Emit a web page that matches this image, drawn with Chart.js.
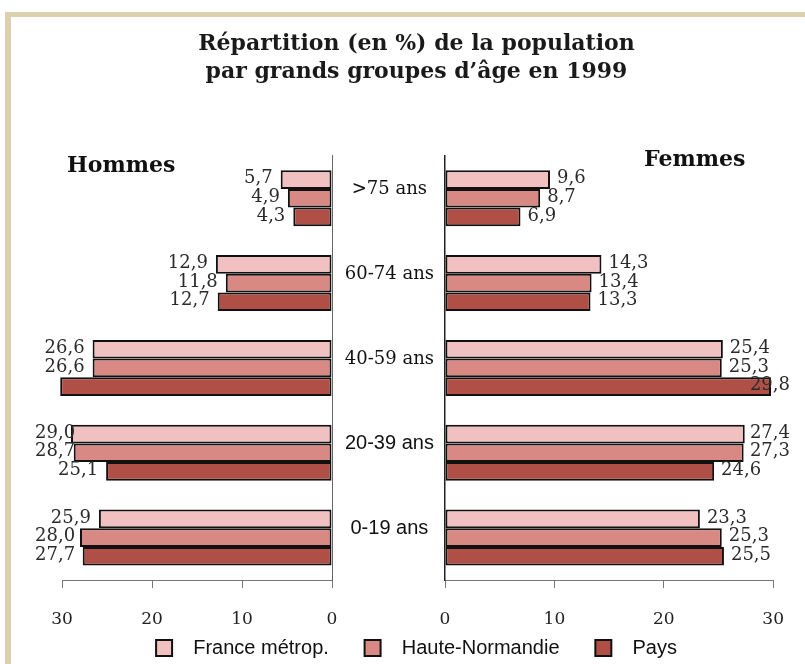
<!DOCTYPE html>
<html>
<head>
<meta charset="utf-8">
<script src="https://cdn.jsdelivr.net/npm/chart.js@4.4.0/dist/chart.umd.min.js"></script>
<style>
  body { margin: 0; background: #fff; }
  #wrap { position: relative; width: 805px; height: 664px; overflow: hidden; }
  #wrap canvas { position: absolute; left: 0; top: 0; }
  #frame { position: absolute; left: 5px; top: 12px; width: 800px; height: 652px;
           border-top: 5px solid #ddd0ae; border-left: 6px solid #ddd0ae; box-sizing: border-box; }
  .side { position: absolute; font: bold 22px "DejaVu Serif", serif; color: #111; }
</style>
</head>
<body>
<div id="wrap">
  <div id="frame"></div>
  <canvas id="hommes" width="805" height="664"></canvas>
  <canvas id="femmes" width="805" height="664"></canvas>
  <div class="side" style="left:67px; top:151px;">Hommes</div>
  <div class="side" style="left:644px; top:145px;">Femmes</div>
</div>
<script>
const categories = ['>75 ans', '60-74 ans', '40-59 ans', '20-39 ans', '0-19 ans'];
const seriesNames = ['France métrop.', 'Haute-Normandie', 'Pays'];
const hommesFrance = [5.7, 12.9, 26.6, 29.0, 25.9];
const hommesHN = [4.9, 11.8, 26.6, 28.7, 28.0];
const hommesPays = [4.3, 12.7, 30.2, 25.1, 27.7];
const femmesFrance = [9.6, 14.3, 25.4, 27.4, 23.3];
const femmesHN = [8.7, 13.4, 25.3, 27.3, 25.3];
const femmesPays = [6.9, 13.3, 29.8, 24.6, 25.5];
const xTicks = [0, 10, 20, 30];
const colors = ['#f0c1c0', '#d98984', '#b04f46'];

const serif = 'DejaVu Serif';
const sans = 'Liberation Sans';
const nbsp = '\u00a0';

// value labels at the end of each bar
const valueLabels = {
    id: 'valueLabels',
    afterDatasetsDraw(chart, args, opts) {
        const ctx = chart.ctx;
        const xs = chart.scales.x;
        ctx.save();
        ctx.font = '18px "' + serif + '"';
        ctx.fillStyle = '#2a2a2a';
        ctx.textBaseline = 'middle';
        ctx.textAlign = 'left';
        chart.data.datasets.forEach((ds, i) => {
            chart.getDatasetMeta(i).data.forEach((bar, j) => {
                const v = ds.data[j];
                if (v > xs.max) return;
                const txt = v.toFixed(1).replace('.', ',');
                const w = ctx.measureText(txt).width;
                let x;
                if (opts.side === 'left') {
                    x = Math.max(bar.x - 8 - w, opts.limit);
                } else {
                    x = Math.min(bar.x + 7, opts.limit - w);
                }
                ctx.fillText(txt, x, bar.y - 1);
            });
        });
        ctx.restore();
    }
};

const makeDatasets = (series) => series.map((data, i) => ({
    label: seriesNames[i],
    data: data,
    backgroundColor: colors[i],
    borderColor: '#111',
    borderWidth: 2,
    borderSkipped: false,
    barPercentage: 1,
    categoryPercentage: 0.66,
    clip: false
}));

const xAxis = (reverse) => ({
    reverse: reverse,
    min: 0,
    max: 30,
    afterBuildTicks: (s) => { s.ticks = xTicks.map(v => ({value: v})); },
    afterFit: (s) => { s.height = 50; },
    ticks: { padding: 21, color: '#222', font: { family: serif, size: 17 } },
    grid: { drawOnChartArea: false, drawTicks: true, tickLength: 8, color: '#777' },
    border: { display: true, color: '#777', width: 1 }
});

const left = new Chart(document.getElementById('hommes'), {
    type: 'bar',
    data: { labels: categories, datasets: makeDatasets([hommesFrance, hommesHN, hommesPays]) },
    options: {
        indexAxis: 'y',
        responsive: false,
        animation: false,
        events: [],
        layout: { padding: { left: 28, right: 0, top: 0, bottom: -4 } },
        scales: {
            x: xAxis(true),
            y: {
                position: 'right',
                ticks: { display: false },
                grid: { display: false, drawTicks: false },
                border: { display: true, color: '#666', width: 1 },
                afterFit: (s) => { s.width = 473; }
            },
            pad: {
                type: 'category',
                axis: 'y',
                position: 'left',
                ticks: { display: false },
                grid: { display: false, drawTicks: false },
                border: { display: false },
                afterFit: (s) => { s.width = 34; }
            }
        },
        plugins: {
            title: {
                display: true,
                text: ['Répartition (en %) de la population', 'par grands groupes d’âge en 1999'],
                color: '#1a1a1a',
                font: { family: serif, size: 22, weight: 'bold', lineHeight: 1.27 },
                padding: { top: 30, bottom: 70 }
            },
            legend: {
                position: 'bottom',
                labels: {
                    boxWidth: 16, boxHeight: 16, padding: 8, color: '#111',
                    font: { family: sans, size: 20 },
                    generateLabels: (chart) => {
                        const items = Chart.defaults.plugins.legend.labels.generateLabels(chart);
                        // wider gaps around the legend texts, as in the original
                        items.forEach((it, i) => {
                            it.text = nbsp.repeat(2) + it.text + (i < items.length - 1 ? nbsp.repeat(5) : '');
                        });
                        return items;
                    }
                }
            },
            tooltip: { enabled: false },
            valueLabels: { side: 'left', limit: 35 }
        }
    },
    plugins: [valueLabels]
});

const right = new Chart(document.getElementById('femmes'), {
    type: 'bar',
    data: { labels: categories, datasets: makeDatasets([femmesFrance, femmesHN, femmesPays]) },
    options: {
        indexAxis: 'y',
        responsive: false,
        animation: false,
        events: [],
        layout: { padding: { left: 332, right: 30, top: left.chartArea.top, bottom: 664 - left.scales.x.bottom } },
        scales: {
            x: xAxis(false),
            y: {
                position: 'left',
                ticks: {
                    padding: 11,
                    crossAlign: 'center',
                    labelOffset: -9,
                    color: '#111',
                    font: (c) => c.index < 3 ? { family: serif, size: 18 } : { family: sans, size: 20 }
                },
                grid: { display: false, drawTicks: false },
                border: { display: true, color: '#222', width: 1.5 },
                afterFit: (s) => { s.width = 113; }
            }
        },
        plugins: {
            legend: { display: false },
            tooltip: { enabled: false },
            valueLabels: { side: 'right', limit: 790 }
        }
    },
    plugins: [valueLabels]
});
</script>
</body>
</html>
